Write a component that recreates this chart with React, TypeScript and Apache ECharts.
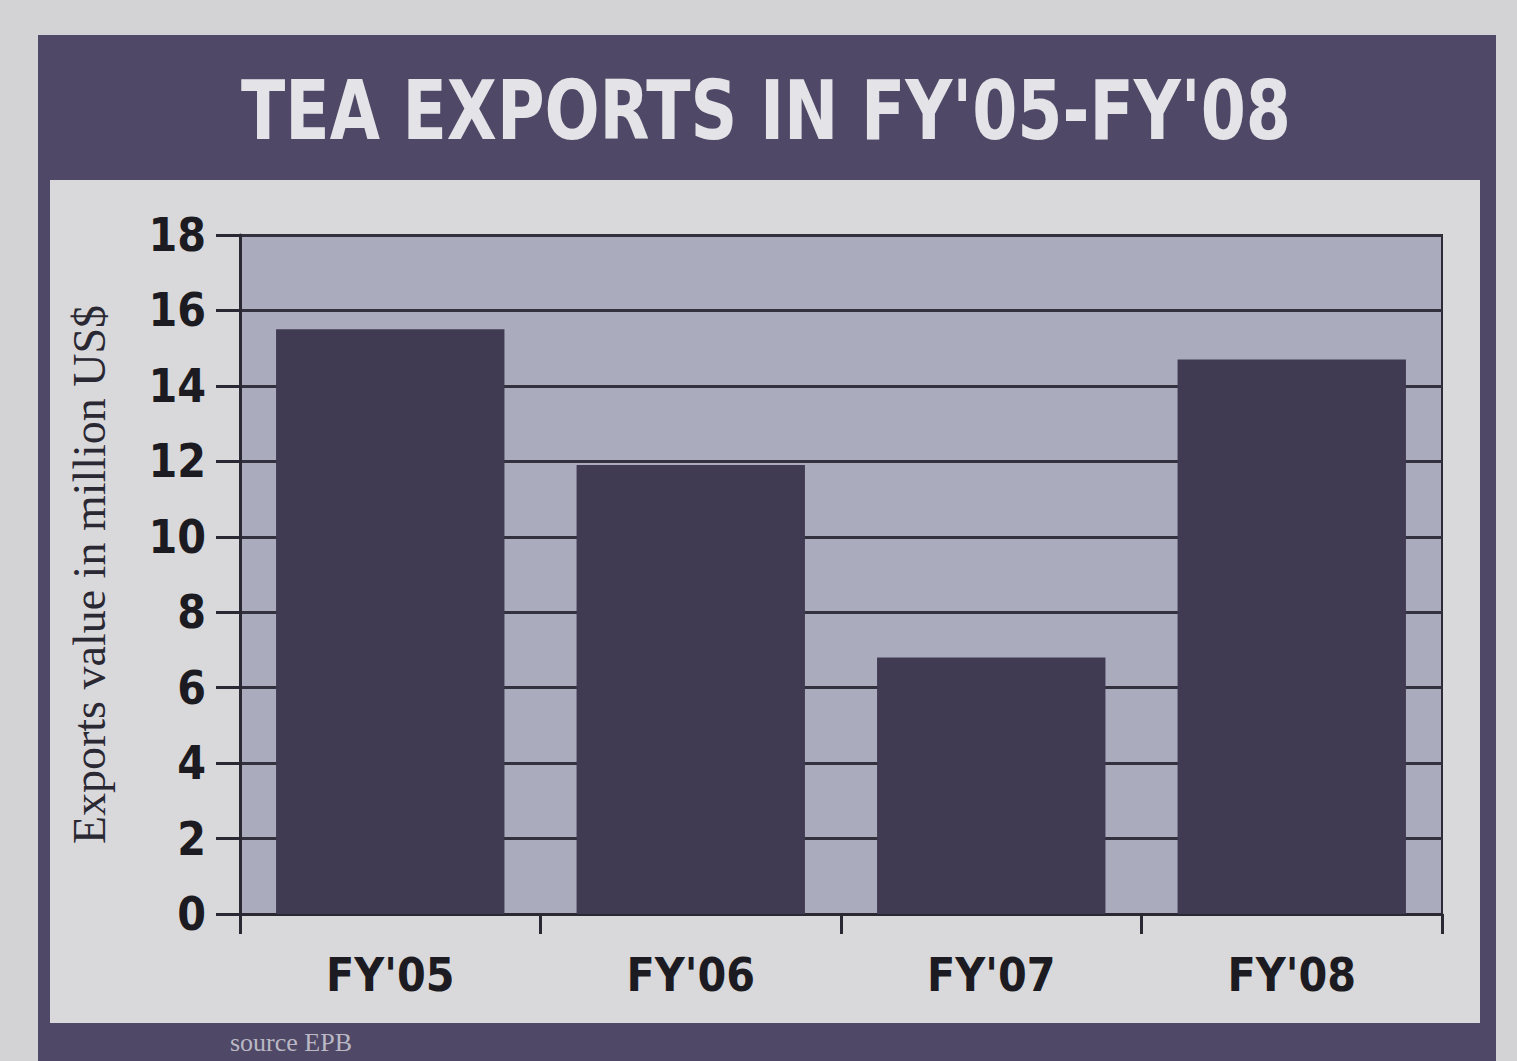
import React, { useEffect, useRef } from "react";
import * as echarts from "echarts";

const categories = ["FY'05", "FY'06", "FY'07", "FY'08"];
const exportsValues = [15.5, 11.9, 6.8, 14.7];
const yTicks = { min: 0, max: 18, interval: 2 };
const titleText = "TEA EXPORTS IN FY'05-FY'08";
const yAxisTitle = "Exports value in million US$";
const sourceText = "source EPB";

const W = 1517;
const H = 1061;

export default function App() {
  const ref = useRef<HTMLDivElement>(null);
  useEffect(() => {
    if (!ref.current) return;
    const chart = echarts.init(ref.current, undefined, { renderer: "svg", width: W, height: H });
    const condensed = "'DejaVu Sans Condensed', 'Liberation Sans Narrow', 'Liberation Sans', sans-serif";
    chart.setOption({
      animation: false,
      backgroundColor: "#d3d3d5",
      graphic: [
        { type: "rect", z: -10, shape: { x: 38, y: 35, width: 1458, height: 1040 }, style: { fill: "#4f4866" } },
        { type: "rect", z: -9, shape: { x: 50, y: 180, width: 1430, height: 843 }, style: { fill: "#d9d9db" } },
        {
          type: "text", z: 5, x: 766, y: 110, scaleX: 0.88,
          style: { text: titleText, fill: "#e4e4e8", font: `bold 82px ${condensed}`, align: "center", verticalAlign: "middle" },
        },
        {
          type: "text", z: 5, x: 230, y: 1029,
          style: { text: sourceText, fill: "#b9b8c4", font: "26px 'Liberation Serif', serif", align: "left", verticalAlign: "top" },
        },
      ],
      grid: {
        left: 240, right: 75, top: 235, bottom: 147,
        show: true, backgroundColor: "#aaacbd", borderColor: "#2e2b38", borderWidth: 2,
      },
      xAxis: {
        type: "category",
        data: categories,
        axisLine: { show: true, lineStyle: { color: "#2a2833", width: 3 } },
        axisTick: { show: true, length: 20, lineStyle: { color: "#2a2833", width: 3 } },
        axisLabel: { color: "#1d1b22", fontFamily: condensed, fontWeight: "bold", fontSize: 46, margin: 38 },
      },
      yAxis: {
        type: "value",
        min: yTicks.min, max: yTicks.max, interval: yTicks.interval,
        name: yAxisTitle,
        nameLocation: "middle",
        nameRotate: 90,
        nameGap: 128,
        nameTextStyle: { color: "#2a2833", fontFamily: "'Liberation Serif', serif", fontSize: 46 },
        axisLine: { show: true, lineStyle: { color: "#2a2833", width: 3 } },
        axisTick: { show: true, length: 24, lineStyle: { color: "#2a2833", width: 3 } },
        axisLabel: { color: "#1d1b22", fontFamily: condensed, fontWeight: "bold", fontSize: 46, margin: 34 },
        splitLine: { show: true, lineStyle: { color: "#34313f", width: 3 } },
      },
      series: [
        {
          type: "bar",
          data: exportsValues,
          barCategoryGap: "24%",
          itemStyle: { color: "#403a52" },
        },
      ],
    });
    return () => chart.dispose();
  }, []);
  return <div ref={ref} style={{ position: "fixed", left: 0, top: 0, width: W, height: H }} />;
}
